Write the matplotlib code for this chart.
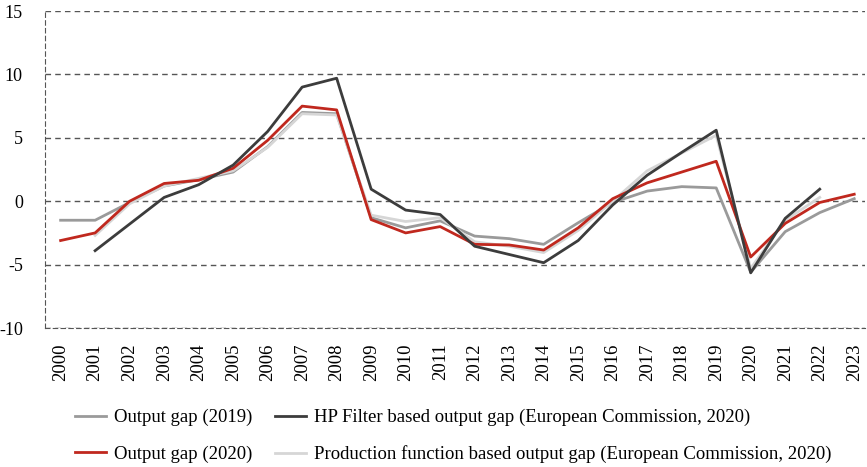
import numpy as np
import matplotlib.pyplot as plt

plt.rcParams['font.family'] = ['Liberation Serif', 'DejaVu Serif']
plt.rcParams['axes.unicode_minus'] = False

years = [str(y) for y in range(2000, 2024)]

# Output gap (2019)
gap_2019 = [-1.5, -1.5, -0.1, 1.2, 1.7, 2.3, 4.3, 7.0, 6.9, -1.3, -2.1, -1.55,
            -2.75, -2.95, -3.4, -1.7, -0.1, 0.8, 1.15, 1.05, -5.6, -2.4, -0.9, 0.2]
# Output gap (2020)
gap_2020 = [-3.1, -2.5, 0.0, 1.4, 1.65, 2.6, 4.8, 7.5, 7.2, -1.45, -2.5, -2.0,
            -3.4, -3.45, -3.85, -2.1, 0.2, 1.45, 2.3, 3.15, -4.4, -1.75, -0.1, 0.55]
# HP filter based output gap (EC 2020), 2001-2022
hp_gap = [np.nan, -3.9, -1.8, 0.3, 1.3, 2.85, 5.5, 9.0, 9.7, 0.95, -0.7, -1.05,
          -3.55, -4.2, -4.85, -3.1, -0.3, 2.05, 3.85, 5.6, -5.65, -1.35, 0.95, np.nan]
# Production function based output gap (EC 2020), 2001-2022
pf_gap = [np.nan, -2.7, -0.2, 1.2, 1.8, 2.4, 4.25, 6.9, 6.8, -1.1, -1.6, -1.3,
          -3.2, -3.55, -4.05, -2.3, 0.0, 2.4, 3.8, 5.2, -5.3, -1.5, 0.3, np.nan]

fig = plt.figure(figsize=(8.67, 4.67), dpi=100)
ax = fig.add_axes([0.052, 0.2976, 0.946, 0.6788])

x = np.arange(len(years))
l1, = ax.plot(x, gap_2019, color='#9a9a9a', lw=2, label='Output gap (2019)')
l3, = ax.plot(x, pf_gap, color='#d6d6d6', lw=2,
              label='Production function based output gap (European Commission, 2020)')
l2, = ax.plot(x, gap_2020, color='#c0281e', lw=2, label='Output gap (2020)')
l4, = ax.plot(x, hp_gap, color='#3c3c3c', lw=2,
              label='HP Filter based output gap (European Commission, 2020)')

ax.set_ylim(-10, 15)
ax.set_yticks(range(-10, 16, 5))
ax.set_xlim(-0.45, 23.32)
ax.set_xticks(x)
ax.set_xticklabels(years, rotation=90, fontsize=13.5)
ax.tick_params(axis='y', labelsize=13, length=0, pad=16)
ax.tick_params(axis='x', length=0, pad=11)

ax.grid(axis='y', color='#555555', linestyle=(0, (4, 3)), lw=1)
for s in ['top', 'right']:
    ax.spines[s].set_visible(False)
for s in ['left', 'bottom']:
    ax.spines[s].set_linestyle((0, (4, 3)))
    ax.spines[s].set_color('#555555')
ax.set_axisbelow(True)

fig.legend([l1, l2, l4, l3],
           [l1.get_label(), l2.get_label(), l4.get_label(), l3.get_label()],
           ncol=2, loc='center', bbox_to_anchor=(0.5225, 0.066), frameon=False,
           fontsize=13.5, handlelength=1.65, handletextpad=0.43,
           columnspacing=1.2, labelspacing=1.0)

fig.savefig('out.png', dpi=100)
